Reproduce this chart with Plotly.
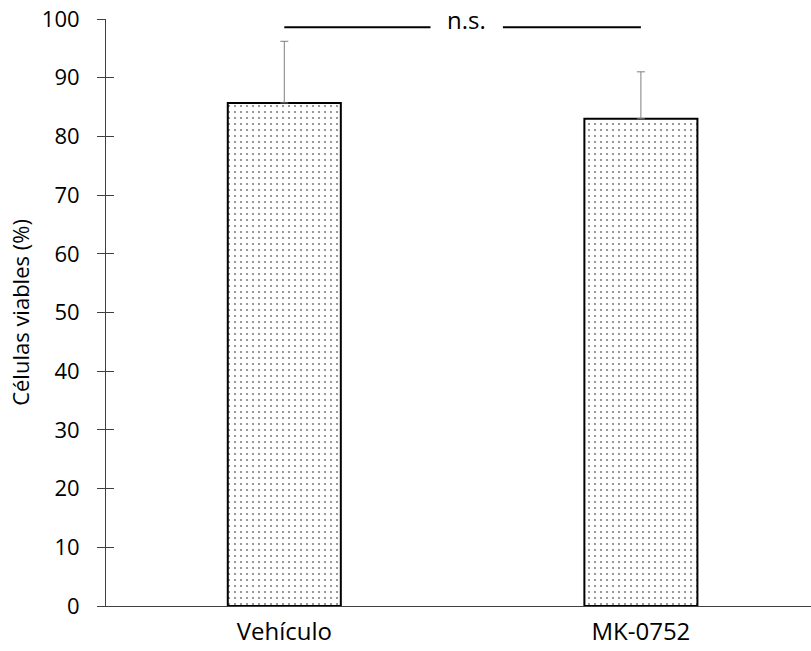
import plotly.graph_objects as go

categories = ["Vehículo", "MK-0752"]
values = [85.7, 83.0]
errors = [10.5, 8.0]
y_ticks = [0, 10, 20, 30, 40, 50, 60, 70, 80, 90, 100]
y_title = "Células viables (%)"
sig_label = "n.s."
sig_level = 98.6

FONT = "'Open Sans', 'Noto Sans', sans-serif"
AX = "#404040"

fig = go.Figure()
fig.add_trace(go.Bar(
    x=[0, 1], y=values, width=0.317,
    marker=dict(color="white", line=dict(color="black", width=2),
                pattern=dict(shape=".", size=6, solidity=0.1, fgcolor="black", bgcolor="white")),
    error_y=dict(type="data", array=errors, arrayminus=[0, 0], symmetric=False,
                 color="#7f7f7f", thickness=1, width=4),
    showlegend=False, hoverinfo="skip",
))
# invisible trace to create the overlay axis for inside ticks
fig.add_trace(go.Scatter(x=[0], y=[0], yaxis="y2", mode="markers",
                         marker=dict(opacity=0), showlegend=False, hoverinfo="skip"))

# significance bracket
fig.add_shape(type="line", xref="x", yref="y", x0=0, x1=0.41, y0=sig_level, y1=sig_level,
              line=dict(color="black", width=2))
fig.add_shape(type="line", xref="x", yref="y", x0=0.613, x1=1, y0=sig_level, y1=sig_level,
              line=dict(color="black", width=2))
fig.add_annotation(x=0.512, y=sig_level, xref="x", yref="y", text=sig_label, showarrow=False,
                   font=dict(family=FONT, size=24, color="black"), yshift=8)

fig.update_layout(
    width=811, height=651,
    margin=dict(l=106, r=0, t=19, b=45),
    plot_bgcolor="white", paper_bgcolor="white",
    font=dict(family=FONT, color="black"),
    xaxis=dict(range=[-0.5, 1.477], tickmode="array", tickvals=[0, 1], ticktext=categories,
               showgrid=False, zeroline=False, showline=True, linecolor=AX, linewidth=1,
               ticks="", ticklabelstandoff=4, tickfont=dict(size=24), fixedrange=True),
    yaxis=dict(range=[0, 100], tickmode="array", tickvals=y_ticks,
               showgrid=False, zeroline=False, showline=True, linecolor=AX, linewidth=1,
               ticks="outside", ticklen=8, tickcolor=AX, tickwidth=1,
               ticklabelstandoff=13, tickfont=dict(size=22),
               title=dict(text=y_title, font=dict(size=22), standoff=6)),
    yaxis2=dict(range=[0, 100], overlaying="y", side="left", tickmode="array", tickvals=y_ticks,
                showticklabels=False, showgrid=False, zeroline=False, showline=False,
                ticks="inside", ticklen=8, tickcolor=AX, tickwidth=1),
)

fig.write_html("out.html", config={"displayModeBar": False},
               post_script="document.body.style.margin='0';document.body.style.overflow='hidden';")
